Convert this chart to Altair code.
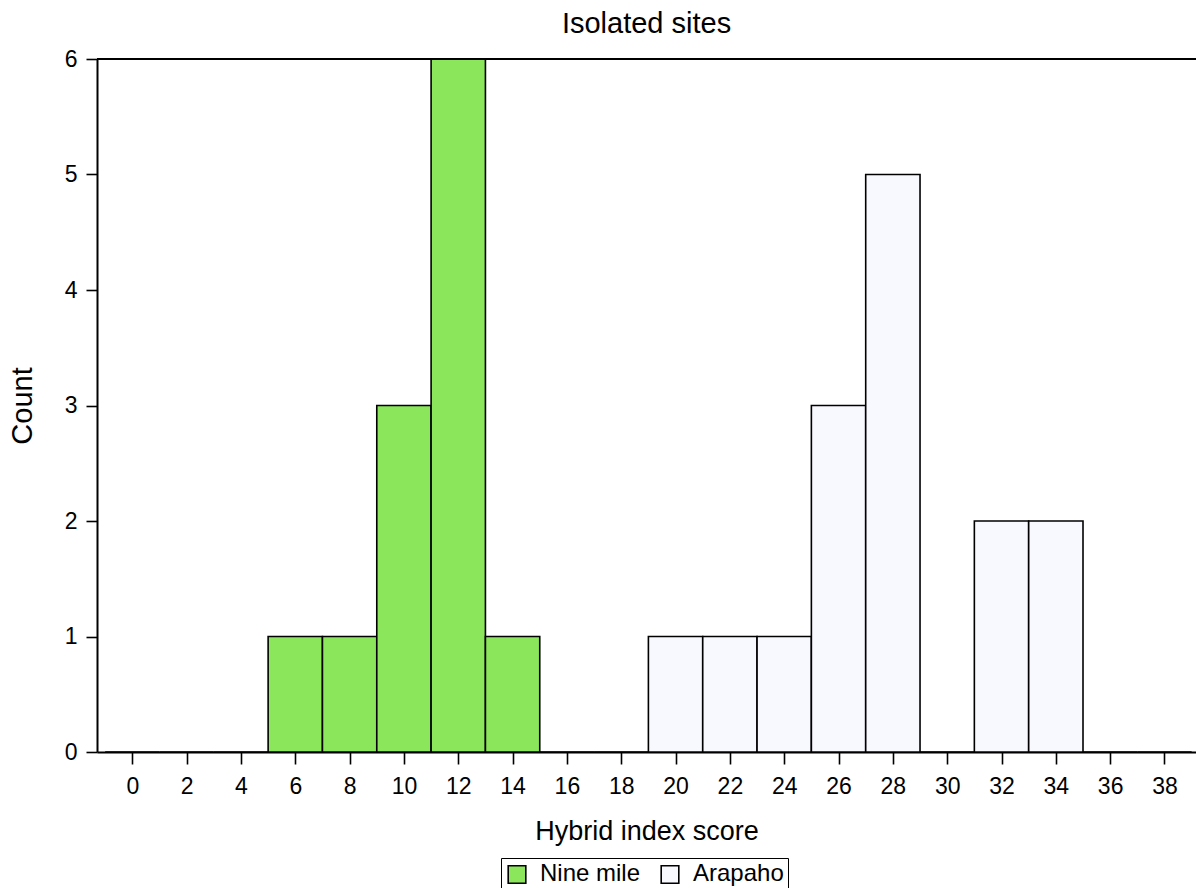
import altair as alt
import pandas as pd

# Bin centres (width 2) and counts per site
centers = [0, 2, 4, 6, 8, 10, 12, 14, 16, 18, 20, 22, 24, 26, 28, 30, 32, 34, 36, 38]
counts = [0, 0, 0, 1, 1, 3, 6, 1, 0, 0, 1, 1, 1, 3, 5, 0, 2, 2, 0, 0]
sites = ["Nine mile"] * 10 + ["Arapaho"] * 10
site_order = ["Nine mile", "Arapaho"]
site_colors = ["#8BE65C", "#F8F8FF"]
x_ticks = list(range(0, 39, 2))
y_ticks = [0, 1, 2, 3, 4, 5, 6]

df = pd.DataFrame({"center": centers, "count": counts, "site": sites})
df["start"] = df["center"] - 1
df["end"] = df["center"] + 1

FONT = "Liberation Sans"
W, H = 1099, 693

bars = alt.Chart(df).mark_rect(stroke="black", strokeWidth=1.6).encode(
    x=alt.X("start:Q",
            scale=alt.Scale(domain=[-1.3, 39.16], nice=False, zero=False),
            axis=alt.Axis(values=x_ticks, title="Hybrid index score", grid=False,
                          tickSize=12, labelPadding=11, labelFontSize=23,
                          titleFontSize=27, titleFontWeight="normal",
                          titleY=87, titleBaseline="alphabetic",
                          domainColor="black", tickColor="black", labelColor="black",
                          titleColor="black", domainWidth=2, tickWidth=1.6)),
    x2="end:Q",
    y=alt.Y("count:Q",
            scale=alt.Scale(domain=[0, 6], nice=False),
            axis=alt.Axis(values=y_ticks, title="Count", grid=False,
                          tickSize=11, labelPadding=9, labelFontSize=23,
                          titleFontSize=29, titleFontWeight="normal",
                          titleX=-66, titleY=H / 2, titleBaseline="alphabetic",
                          titleAngle=-90,
                          domainColor="black", tickColor="black", labelColor="black",
                          titleColor="black", domainWidth=2, tickWidth=1.6)),
    y2=alt.datum(0),
    fill=alt.Fill("site:N",
                  scale=alt.Scale(domain=site_order, range=site_colors),
                  legend=alt.Legend(title=None, orient="none", direction="horizontal",
                                    legendX=404, legendY=799,
                                    symbolType="square", symbolSize=310,
                                    symbolStrokeColor="black", symbolStrokeWidth=1.6,
                                    labelFontSize=24, labelColor="black",
                                    labelOffset=11, columnPadding=16,
                                    strokeColor="black", padding=4)),
)

top_line = alt.Chart(df).mark_rule(color="black", strokeWidth=2).encode(
    x=alt.value(0), x2=alt.value(W), y=alt.value(0)
)

chart = alt.layer(bars, top_line).properties(
    width=W, height=H,
    title=alt.TitleParams("Isolated sites", fontSize=29, fontWeight="normal",
                          font=FONT, color="black", anchor="middle", offset=9),
    autosize=alt.AutoSizeParams(type="none"),
    padding={"left": 97, "top": 59, "right": 0, "bottom": 136},
).configure(font=FONT).configure_view(stroke=None)

chart.save("out.html", embed_options={"renderer": "svg", "actions": False})
